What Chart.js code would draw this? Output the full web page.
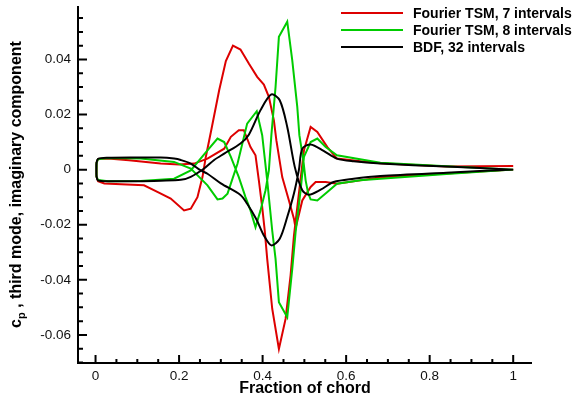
<!DOCTYPE html>
<html>
<head>
<meta charset="utf-8">
<script src="https://cdn.jsdelivr.net/npm/chart.js@4/dist/chart.umd.min.js"></script>
<style>
  html, body { margin: 0; padding: 0; background: #fff; }
  #chart { display: block; }
</style>
</head>
<body>
<canvas id="chart" width="579" height="400"></canvas>
<script>
const tsm7UpperX = [0.002, 0.0025, 0.006, 0.03, 0.08, 0.156, 0.2, 0.236, 0.268, 0.308, 0.324, 0.343, 0.355, 0.371, 0.383, 0.391, 0.399, 0.405, 0.411, 0.423, 0.439, 0.455, 0.467, 0.475, 0.499, 0.515, 0.531, 0.555, 0.578, 0.634, 0.682, 0.84, 1.0];
const tsm7UpperY = [0, 0.0025, 0.0039, 0.0040, 0.0034, 0.0022, 0.0019, 0.0022, 0.0040, 0.0076, 0.0119, 0.0143, 0.0143, 0.0082, 0.0052, -0.0039, -0.0136, -0.0220, -0.0324, -0.0505, -0.0651, -0.0542, -0.0384, -0.0240, 0.0070, 0.0155, 0.0137, 0.0082, 0.0040, 0.0030, 0.0023, 0.0011, 0.0013];
const tsm7LowerX = [0.002, 0.0025, 0.006, 0.021, 0.116, 0.148, 0.18, 0.212, 0.228, 0.244, 0.256, 0.264, 0.277, 0.296, 0.312, 0.329, 0.347, 0.367, 0.387, 0.403, 0.415, 0.427, 0.433, 0.447, 0.463, 0.475, 0.479, 0.495, 0.515, 0.527, 0.551, 0.578, 0.634, 0.682, 0.84, 1.0];
const tsm7LowerY = [0, -0.0025, -0.0042, -0.0050, -0.0057, -0.0081, -0.0105, -0.0148, -0.0142, -0.0100, -0.0027, 0.0046, 0.0143, 0.0288, 0.0394, 0.0450, 0.0436, 0.0385, 0.0337, 0.0309, 0.0264, 0.0179, 0.0106, -0.0027, -0.0112, -0.0178, -0.0213, -0.0112, -0.0063, -0.0045, -0.0045, -0.0051, -0.0039, -0.0028, -0.0014, 0];

const tsm8UpperX = [0.002, 0.0025, 0.006, 0.03, 0.108, 0.188, 0.228, 0.268, 0.292, 0.304, 0.316, 0.34, 0.363, 0.386, 0.399, 0.411, 0.423, 0.431, 0.439, 0.459, 0.471, 0.479, 0.491, 0.499, 0.515, 0.531, 0.551, 0.578, 0.682, 0.84, 1.0];
const tsm8UpperY = [0, 0.0025, 0.0038, 0.0042, 0.0040, 0.0028, 0.0004, -0.0057, -0.0108, -0.0105, -0.0087, 0.0022, 0.0167, 0.0212, 0.0125, -0.0039, -0.0221, -0.0324, -0.0481, -0.0536, -0.0360, -0.0227, -0.0075, 0.0046, 0.0100, 0.0113, 0.0082, 0.0052, 0.0025, 0.0012, 0];
const tsm8LowerX = [0.002, 0.0025, 0.006, 0.03, 0.108, 0.188, 0.228, 0.268, 0.292, 0.308, 0.324, 0.343, 0.359, 0.371, 0.383, 0.395, 0.407, 0.415, 0.421, 0.431, 0.439, 0.459, 0.471, 0.483, 0.488, 0.4975, 0.503, 0.509, 0.515, 0.531, 0.555, 0.578, 0.634, 0.682, 0.84, 1.0];
const tsm8LowerY = [0, -0.0025, -0.0038, -0.0042, -0.0041, -0.0033, -0.0003, 0.0070, 0.0113, 0.0100, 0.0046, -0.0027, -0.0100, -0.0148, -0.0209, -0.0148, -0.0075, -0.0003, 0.0125, 0.0300, 0.0482, 0.0537, 0.0397, 0.0228, 0.0125, 0.0034, -0.0039, -0.0086, -0.0108, -0.0112, -0.0081, -0.0051, -0.0039, -0.0033, -0.0016, 0];

const bdfUpperX = [0.002, 0.0025, 0.006, 0.03, 0.1, 0.156, 0.188, 0.204, 0.228, 0.252, 0.268, 0.300, 0.347, 0.363, 0.385, 0.403, 0.421, 0.441, 0.459, 0.475, 0.487, 0.495, 0.515, 0.546, 0.578, 0.618, 0.682, 0.84, 1.0];
const bdfUpperY = [0, 0.0025, 0.0039, 0.0043, 0.0044, 0.0044, 0.0040, 0.0035, 0.0022, -0.0003, -0.0015, -0.0050, -0.0092, -0.0124, -0.0180, -0.0239, -0.0275, -0.0251, -0.0172, -0.0087, 0.0000, 0.0076, 0.0091, 0.0068, 0.0040, 0.0030, 0.0022, 0.0011, 0];
const bdfLowerX = [0.002, 0.0025, 0.006, 0.03, 0.1, 0.156, 0.204, 0.228, 0.260, 0.284, 0.308, 0.347, 0.367, 0.395, 0.421, 0.441, 0.459, 0.477, 0.495, 0.511, 0.539, 0.570, 0.618, 0.682, 0.84, 1.0];
const bdfLowerY = [0, -0.0025, -0.0039, -0.0042, -0.0042, -0.0040, -0.0037, -0.0026, 0.0004, 0.0035, 0.0058, 0.0095, 0.0127, 0.0216, 0.0273, 0.0252, 0.0155, 0.0010, -0.0075, -0.0091, -0.0073, -0.0045, -0.0033, -0.0023, -0.0011, 0];

const seriesNames = ["Fourier TSM, 7 intervals", "Fourier TSM, 8 intervals", "BDF, 32 intervals"];
const seriesColors = ["#dd0000", "#00cc00", "#000000"];

const xTitle = "Fraction of chord";
const yTitleMain = "c";
const yTitleSub = "p";
const yTitleRest = " , third mode, imaginary component";

const FONT = "'Liberation Sans', Arial, sans-serif";

// trailing edge -> upper branch -> nose -> lower branch -> trailing edge
function loop(ux, uy, lx, ly) {
    const pts = [];
    for (let i = ux.length - 1; i >= 0; i--) pts.push({ x: ux[i], y: uy[i] });
    for (let i = 1; i < lx.length; i++) pts.push({ x: lx[i], y: ly[i] });
    return pts;
}

const frame = {
    id: "frame",
    afterDraw(chart) {
        const { ctx, chartArea: a, scales: { x, y } } = chart;
        ctx.save();
        ctx.strokeStyle = "#000";
        ctx.lineWidth = 2;
        ctx.beginPath();
        ctx.moveTo(a.left, a.top);
        ctx.lineTo(a.left, a.bottom);
        ctx.lineTo(a.right, a.bottom);
        ctx.stroke();

        // inward ticks, minor every 0.005 / 0.05
        ctx.beginPath();
        for (let i = -16; i <= 14; i++) {
            const py = y.getPixelForValue(i * 0.005);
            if (py < a.top || py > a.bottom) continue;
            const len = i % 4 === 0 ? 9 : 5;
            ctx.moveTo(a.left, py);
            ctx.lineTo(a.left + len, py);
        }
        for (let i = -1; i <= 21; i++) {
            const px = x.getPixelForValue(i * 0.05);
            if (px < a.left || px > a.right) continue;
            const len = i % 4 === 0 ? 8 : 4;
            ctx.moveTo(px, a.bottom);
            ctx.lineTo(px, a.bottom - len);
        }
        ctx.stroke();

        // axis titles
        ctx.fillStyle = "#000";
        ctx.font = "bold 16px " + FONT;
        ctx.textAlign = "center";
        ctx.textBaseline = "middle";
        ctx.fillText(xTitle, (a.left + a.right) / 2, 389);

        ctx.translate(17, (a.top + a.bottom) / 2);
        ctx.rotate(-Math.PI / 2);
        ctx.textAlign = "left";
        ctx.font = "bold 16px " + FONT;
        const w1 = ctx.measureText(yTitleMain).width;
        const w3 = ctx.measureText(yTitleRest).width;
        ctx.font = "bold 11px " + FONT;
        const w2 = ctx.measureText(yTitleSub).width;
        let tx = -(w1 + w2 + w3) / 2;
        ctx.font = "bold 16px " + FONT;
        ctx.fillText(yTitleMain, tx, 0);
        tx += w1;
        ctx.font = "bold 11px " + FONT;
        ctx.fillText(yTitleSub, tx, 5);
        tx += w2;
        ctx.font = "bold 16px " + FONT;
        ctx.fillText(yTitleRest, tx, 0);
        ctx.restore();

        // legend
        ctx.save();
        ctx.font = "bold 14px " + FONT;
        ctx.textAlign = "left";
        ctx.textBaseline = "middle";
        ctx.lineWidth = 2;
        chart.data.datasets.forEach((ds, i) => {
            const ly = 13 + i * 17;
            ctx.strokeStyle = ds.borderColor;
            ctx.beginPath();
            ctx.moveTo(341, ly);
            ctx.lineTo(403, ly);
            ctx.stroke();
            ctx.fillStyle = "#000";
            ctx.fillText(ds.label, 413, ly + 1);
        });
        ctx.restore();
    }
};

// black drawn last so it sits on top, like the original
const datasets = [
    { pts: loop(tsm7UpperX, tsm7UpperY, tsm7LowerX, tsm7LowerY), tension: 0, order: 2 },
    { pts: loop(tsm8UpperX, tsm8UpperY, tsm8LowerX, tsm8LowerY), tension: 0, order: 1 },
    { pts: loop(bdfUpperX, bdfUpperY, bdfLowerX, bdfLowerY), tension: 0.3, order: 0 }
].map((d, i) => ({
    label: seriesNames[i],
    data: d.pts,
    order: d.order,
    showLine: true,
    borderColor: seriesColors[i],
    backgroundColor: seriesColors[i],
    borderWidth: 2,
    pointRadius: 0,
    tension: d.tension,
    fill: false
}));

new Chart(document.getElementById("chart"), {
    type: "scatter",
    data: { datasets: datasets },
    options: {
        responsive: false,
        animation: false,
        devicePixelRatio: 1,
        layout: { padding: { top: 6, right: 47, left: 0, bottom: 0 } },
        plugins: {
            legend: { display: false },
            tooltip: { enabled: false }
        },
        scales: {
            x: {
                type: "linear",
                min: -0.042,
                max: 1.045,
                border: { display: false },
                grid: { display: false, drawTicks: false },
                ticks: {
                    stepSize: 0.2,
                    includeBounds: false,
                    autoSkip: false,
                    maxRotation: 0,
                    padding: 5,
                    color: "#111",
                    font: { family: FONT, size: 13.5 },
                    callback: v => String(+v.toFixed(1))
                },
                afterFit: s => {
                    s.height = 37;
                    s.paddingLeft = 0;
                    s.paddingRight = 0;
                }
            },
            y: {
                type: "linear",
                min: -0.0702,
                max: 0.0594,
                border: { display: false },
                grid: { display: false, drawTicks: false },
                ticks: {
                    stepSize: 0.02,
                    includeBounds: false,
                    autoSkip: false,
                    padding: 7,
                    color: "#111",
                    font: { family: FONT, size: 13.5 },
                    callback: v => String(+v.toFixed(2))
                },
                afterFit: s => {
                    s.width = 78;
                    s.paddingTop = 0;
                    s.paddingBottom = 0;
                }
            }
        }
    },
    plugins: [frame]
});
</script>
</body>
</html>
